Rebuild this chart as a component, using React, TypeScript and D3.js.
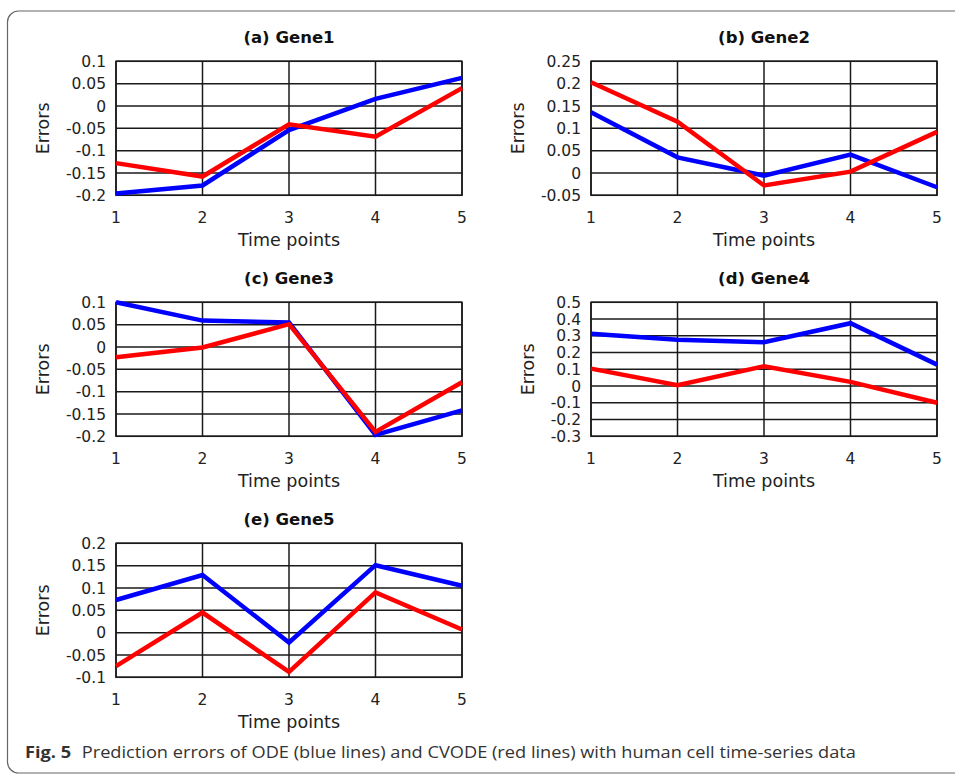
import React from "react";
import * as d3 from "d3";

const timePoints = [1, 2, 3, 4, 5];

const gene1Ode = [-0.196, -0.178, -0.054, 0.016, 0.063];
const gene1Cvode = [-0.128, -0.158, -0.041, -0.069, 0.04];
const gene2Ode = [0.136, 0.035, -0.006, 0.041, -0.032];
const gene2Cvode = [0.203, 0.115, -0.028, 0.003, 0.092];
const gene3Ode = [0.1, 0.059, 0.055, -0.197, -0.142];
const gene3Cvode = [-0.023, -0.001, 0.051, -0.19, -0.079];
const gene4Ode = [0.312, 0.276, 0.262, 0.375, 0.128];
const gene4Cvode = [0.104, 0.005, 0.118, 0.025, -0.1];
const gene5Ode = [0.073, 0.129, -0.022, 0.151, 0.105];
const gene5Cvode = [-0.075, 0.045, -0.088, 0.09, 0.007];

const ticks1 = [-0.2, -0.15, -0.1, -0.05, 0, 0.05, 0.1];
const tickLabels1 = ["-0.2", "-0.15", "-0.1", "-0.05", "0", "0.05", "0.1"];
const ticks2 = [-0.05, 0, 0.05, 0.1, 0.15, 0.2, 0.25];
const tickLabels2 = ["-0.05", "0", "0.05", "0.1", "0.15", "0.2", "0.25"];
const ticks3 = [-0.2, -0.15, -0.1, -0.05, 0, 0.05, 0.1];
const tickLabels3 = ["-0.2", "-0.15", "-0.1", "-0.05", "0", "0.05", "0.1"];
const ticks4 = [-0.3, -0.2, -0.1, 0, 0.1, 0.2, 0.3, 0.4, 0.5];
const tickLabels4 = ["-0.3", "-0.2", "-0.1", "0", "0.1", "0.2", "0.3", "0.4", "0.5"];
const ticks5 = [-0.1, -0.05, 0, 0.05, 0.1, 0.15, 0.2];
const tickLabels5 = ["-0.1", "-0.05", "0", "0.05", "0.1", "0.15", "0.2"];

const titles = ["(a) Gene1", "(b) Gene2", "(c) Gene3", "(d) Gene4", "(e) Gene5"];
const xLabel = "Time points";
const yLabel = "Errors";
const captionBold = "Fig. 5";
const captionText =
  "Prediction errors of ODE (blue lines) and CVODE (red lines) with human cell time-series data";

const panels = [
  { title: titles[0], ode: gene1Ode, cvode: gene1Cvode, ticks: ticks1, labels: tickLabels1, col: 0, row: 0 },
  { title: titles[1], ode: gene2Ode, cvode: gene2Cvode, ticks: ticks2, labels: tickLabels2, col: 1, row: 0 },
  { title: titles[2], ode: gene3Ode, cvode: gene3Cvode, ticks: ticks3, labels: tickLabels3, col: 0, row: 1 },
  { title: titles[3], ode: gene4Ode, cvode: gene4Cvode, ticks: ticks4, labels: tickLabels4, col: 1, row: 1 },
  { title: titles[4], ode: gene5Ode, cvode: gene5Cvode, ticks: ticks5, labels: tickLabels5, col: 0, row: 2 },
];

const FONT = "'DejaVu Sans', sans-serif";
const colLeft = [116, 591];
const plotW = 346;
const rowTop = [61.3, 302.3, 543.3];
const plotH = 134;

let measureCtx: CanvasRenderingContext2D | null = null;
function textWidth(s: string, font: string) {
  if (!measureCtx) {
    const c = document.createElement("canvas");
    measureCtx = c.getContext("2d");
  }
  if (!measureCtx) return s.length * 9;
  measureCtx.font = font;
  return measureCtx.measureText(s).width;
}

function Panel({ p }: { p: (typeof panels)[number] }) {
  const left = colLeft[p.col];
  const top = rowTop[p.row];
  const x = d3.scaleLinear().domain([1, 5]).range([left, left + plotW]);
  const y = d3
    .scaleLinear()
    .domain([p.ticks[0], p.ticks[p.ticks.length - 1]])
    .range([top + plotH, top]);
  const line = d3
    .line<number>()
    .x((_, i) => x(timePoints[i]))
    .y((v) => y(v));
  const maxW = d3.max(p.labels, (l) => textWidth(l, `15.5px 'DejaVu Sans'`)) || 0;
  const ylx = left - 10 - maxW - 23;
  const cy = top + plotH / 2;
  return (
    <g>
      {p.ticks.map((t, i) => (
        <line key={"h" + i} x1={left} x2={left + plotW} y1={y(t)} y2={y(t)} stroke="#1a1a1a" strokeWidth={1.5} />
      ))}
      {timePoints.map((t, i) => (
        <line key={"v" + i} x1={x(t)} x2={x(t)} y1={top} y2={top + plotH} stroke="#1a1a1a" strokeWidth={1.5} />
      ))}
      <rect x={left} y={top} width={plotW} height={plotH} fill="none" stroke="#1a1a1a" strokeWidth={1.5} />
      <path d={line(p.ode) || ""} fill="none" stroke="#0000ff" strokeWidth={4.5} strokeLinejoin="miter" />
      <path d={line(p.cvode) || ""} fill="none" stroke="#ff0000" strokeWidth={4.5} strokeLinejoin="miter" />
      {p.ticks.map((t, i) => (
        <text key={"yl" + i} x={left - 10} y={y(t) + 5.6} textAnchor="end" fontFamily={FONT} fontSize={15.5} fill="#222">
          {p.labels[i]}
        </text>
      ))}
      {timePoints.map((t, i) => (
        <text key={"xl" + i} x={x(t)} y={top + plotH + 27.5} textAnchor="middle" fontFamily={FONT} fontSize={15.5} fill="#222">
          {String(t)}
        </text>
      ))}
      <text x={left + plotW / 2} y={top + plotH + 51} textAnchor="middle" fontFamily={FONT} fontSize={17.5} fill="#222">
        {xLabel}
      </text>
      <text
        transform={`translate(${ylx + 6.4},${cy}) rotate(-90)`}
        textAnchor="middle"
        fontFamily={FONT}
        fontSize={17.5}
        fill="#222"
      >
        {yLabel}
      </text>
      <text x={left + plotW / 2} y={top - 18.7} textAnchor="middle" fontFamily={FONT} fontSize={16.5} fontWeight="bold" fill="#111">
        {p.title}
      </text>
    </g>
  );
}

export default function App() {
  return (
    <svg
      width={955}
      height={774}
      style={{ position: "absolute", left: 0, top: 0, background: "#fff" }}
    >
      <rect x={0} y={0} width={955} height={774} fill="#fff" />
      <rect x={7.5} y={11} width={970} height={762} rx={11} ry={11} fill="none" stroke="#666" strokeWidth={1.2} />
      {panels.map((p, i) => (
        <Panel key={i} p={p} />
      ))}
      <text
        transform="translate(25,757.5) scale(1.175,1)"
        fontFamily="'Open Sans', sans-serif"
        fontSize={15.5}
        fill="#333"
      >
        <tspan fontWeight="bold">{captionBold}</tspan>
        <tspan dx={9}>{captionText}</tspan>
      </text>
    </svg>
  );
}
